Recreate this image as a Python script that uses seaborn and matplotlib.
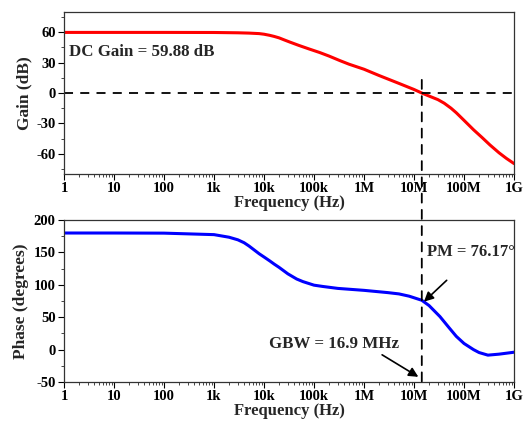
import numpy as np
import pandas as pd
import seaborn as sns
import matplotlib
matplotlib.use("Agg")
import matplotlib.pyplot as plt
from matplotlib.patches import ConnectionPatch
from matplotlib.ticker import FixedLocator, LogLocator, NullFormatter, MultipleLocator

# ---- data ----
freq_gain = [1, 10, 100, 1e3, 3e3, 5e3, 8e3, 1e4, 1.3e4, 1.6e4, 2e4, 2.5e4, 3.3e4,
             5e4, 8e4, 1.3e5, 2e5, 3.3e5, 5e5, 1e6, 2e6, 5e6, 1e7, 1.43e7, 2e7,
             3e7, 4e7, 5.5e7, 7e7, 1e8, 1.55e8, 2.3e8, 3.3e8, 5e8, 7e8, 1e9]
gain_db = [59.88, 59.88, 59.88, 59.8, 59.5, 59.2, 58.7, 58.1, 57.0, 55.9, 54.5,
           52.6, 50.3, 47.0, 43.5, 40.0, 36.5, 32.0, 28.5, 23.5, 17.3, 9.5, 3.5,
           0.0, -3.0, -6.5, -10.0, -15.0, -19.5, -27.0, -36.3, -44.0, -51.3,
           -59.0, -64.5, -69.7]

freq_phase = [1, 10, 100, 1e3, 2e3, 3e3, 4e3, 5e3, 8e3, 1e4, 1.3e4, 1.6e4, 2e4,
              3e4, 4.5e4, 6e4, 1e5, 1.5e5, 3e5, 1e6, 3e6, 5e6, 8e6, 1.43e7, 2e7,
              3.3e7, 5e7, 7e7, 1e8, 1.55e8, 2e8, 3e8, 5e8, 1e9]
phase_deg = [180.0, 180.0, 179.8, 177.5, 173.5, 169.5, 165.0, 160.0, 148.0, 143.0,
             137.0, 132.0, 127.0, 117.0, 109.0, 105.0, 99.5, 97.5, 94.5, 91.5,
             88.0, 86.0, 82.5, 76.17, 68.0, 51.0, 34.0, 20.5, 9.5, 0.0, -4.5,
             -8.5, -7.0, -4.0]

x_ticks = [1, 10, 100, 1e3, 1e4, 1e5, 1e6, 1e7, 1e8, 1e9]
x_ticklabels = ["1", "10", "100", "1k", "10k", "100k", "1M", "10M", "100M", "1G"]
gain_ticks = [-60, -30, 0, 30, 60]
phase_ticks = [-50, 0, 50, 100, 150, 200]
gbw_freq = 1.43e7

dc_gain_text = "DC Gain = 59.88 dB"
pm_text = "PM = 76.17°"
gbw_text = "GBW = 16.9 MHz"

sns.set_style("ticks")
plt.rcParams["font.family"] = ["Liberation Serif", "DejaVu Serif"]
plt.rcParams["font.weight"] = "bold"
plt.rcParams["axes.labelweight"] = "bold"
plt.rcParams["axes.unicode_minus"] = False

fig = plt.figure(figsize=(5.27, 4.24), dpi=100)
ax1 = fig.add_axes([0.1214, 0.5896, 0.854, 0.382])
ax2 = fig.add_axes([0.1214, 0.0990, 0.854, 0.382])

df_g = pd.DataFrame({"f": freq_gain, "g": gain_db})
df_p = pd.DataFrame({"f": freq_phase, "p": phase_deg})

sns.lineplot(data=df_g, x="f", y="g", ax=ax1, color="#ff0000", linewidth=2.2)
sns.lineplot(data=df_p, x="f", y="p", ax=ax2, color="#0000ff", linewidth=2.2)

for ax in (ax1, ax2):
    ax.set_xscale("log")
    ax.set_xlim(1, 1e9)
    ax.xaxis.set_major_locator(FixedLocator(x_ticks))
    ax.set_xticklabels(x_ticklabels)
    ax.xaxis.set_minor_locator(LogLocator(base=10, subs=np.arange(2, 10), numticks=20))
    ax.xaxis.set_minor_formatter(NullFormatter())
    ax.set_xlabel("Frequency (Hz)", fontsize=12, fontweight="bold", labelpad=0)
    ax.tick_params(which="major", direction="out", length=4, width=0.8,
                   labelsize=10.5, pad=2, top=False, right=False, colors="black")
    ax.tick_params(which="minor", direction="out", length=2, width=0.6,
                   top=False, right=False)
    for s in ax.spines.values():
        s.set_linewidth(0.9)
        s.set_color("#333333")
        s.set_visible(True)

ax1.set_ylim(-80, 80)
ax1.yaxis.set_major_locator(FixedLocator(gain_ticks))
ax1.yaxis.set_minor_locator(MultipleLocator(15))
ax1.set_ylabel("Gain (dB)", fontsize=12.5, fontweight="bold", labelpad=3)
ax1.axhline(0, color="black", linestyle=(0, (5, 4)), linewidth=1.3)

ax2.set_ylim(-50, 200)
ax2.yaxis.set_major_locator(FixedLocator(phase_ticks))
ax2.yaxis.set_minor_locator(MultipleLocator(25))
ax2.set_ylabel("Phase (degrees)", fontsize=12.5, fontweight="bold", labelpad=3)

for ax in (ax1, ax2):
    for lbl in ax.get_xticklabels() + ax.get_yticklabels():
        lbl.set_fontweight("bold")

# vertical dashed GBW line spanning both axes
con = ConnectionPatch(xyA=(gbw_freq, 13), coordsA=ax1.transData,
                      xyB=(gbw_freq, -50), coordsB=ax2.transData,
                      color="black", linestyle=(0, (5, 4)), linewidth=1.3)
fig.add_artist(con)

ax1.text(1.28, 41, dc_gain_text, fontsize=12.2, fontweight="bold", va="center")

ax2.text(1.8e7, 150, pm_text, fontsize=12, fontweight="bold", va="center")
ax2.annotate("", xy=(1.58e7, 74), xytext=(4.5e7, 107),
             arrowprops=dict(arrowstyle="-|>", color="black", lw=1.2,
                             mutation_scale=14, shrinkA=0, shrinkB=0))
ax2.text(1.26e4, 8, gbw_text, fontsize=12.2, fontweight="bold", va="center")
ax2.annotate("", xy=(1.22e7, -42), xytext=(2.3e6, -8),
             arrowprops=dict(arrowstyle="-|>", color="black", lw=1.2,
                             mutation_scale=14, shrinkA=0, shrinkB=0))

fig.savefig("out.png", dpi=100)
